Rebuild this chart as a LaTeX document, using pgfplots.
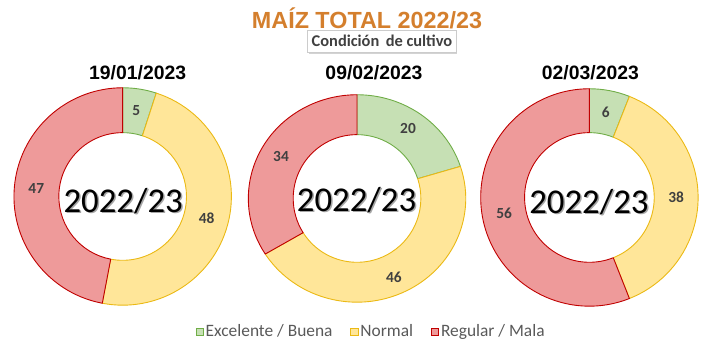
\documentclass[border=0pt]{standalone}
\usepackage{pgfplots}
\pgfplotsset{compat=1.18}
\usepackage{fontspec}
\setmainfont{Carlito}
\newfontfamily\arialfont{Liberation Sans}
\usetikzlibrary{shadows}
\definecolor{gfill}{RGB}{198,224,180}
\definecolor{gdraw}{RGB}{112,173,71}
\definecolor{yfill}{RGB}{255,230,153}
\definecolor{ydraw}{RGB}{235,185,20}
\definecolor{rfill}{RGB}{238,154,154}
\definecolor{rdraw}{RGB}{192,0,0}
\definecolor{lbl}{RGB}{64,64,64}
\definecolor{leg}{RGB}{89,89,89}
\definecolor{ttl}{RGB}{212,127,45}

% one ring segment: cx cy a1 a2 Rx Ry r fill draw
\newcommand{\seg}[9]{%
  \filldraw[fill=#8, draw=#9, line width=0.9pt, line join=round, shift={(axis cs:#1,#2)}]
    (#3:#5bp and #6bp) arc[start angle=#3, end angle=#4, x radius=#5bp, y radius=#6bp]
    -- (#4:#7bp) arc[start angle=#4, end angle=#3, radius=#7bp] -- cycle;}
% donut: cx cy Rx Ry r  green yellow red (percent)
\newcommand{\donut}[8]{%
  \pgfplotsextra{%
    \pgfmathsetmacro\aA{90}%
    \pgfmathsetmacro\aB{90-3.6*#6}%
    \pgfmathsetmacro\aC{\aB-3.6*#7}%
    \pgfmathsetmacro\aD{\aC-3.6*#8}%
    \seg{#1}{#2}{\aA}{\aB}{#3}{#4}{#5}{gfill}{gdraw}%
    \seg{#1}{#2}{\aB}{\aC}{#3}{#4}{#5}{yfill}{ydraw}%
    \seg{#1}{#2}{\aC}{\aD}{#3}{#4}{#5}{rfill}{rdraw}%
    \pgfmathsetmacro\mA{(\aA+\aB)/2}%
    \pgfmathsetmacro\mB{(\aB+\aC)/2}%
    \pgfmathsetmacro\mC{(\aC+\aD)/2}%
    \path[shift={(axis cs:#1,#2)}, every node/.style={font=\fontsize{15.5}{18}\selectfont\bfseries, text=lbl}]
      (\mA:87bp) node{#6} (\mB:87bp) node{#7} (\mC:87bp) node{#8};
  }}

\begin{document}
\begin{tikzpicture}
\begin{axis}[
  x=1bp, y=1bp, xmin=0, xmax=713, ymin=0, ymax=353,
  hide axis, clip=false,
  legend style={at={(0.522,0.058)}, anchor=center, draw=none, fill=none,
    font=\fontsize{17.5}{20}\selectfont, text=leg,
    /tikz/every even column/.append style={column sep=16bp}},
  legend columns=3,
  legend image code/.code={\filldraw[#1, line width=0.8pt] (0bp,-3.6bp) rectangle (7.2bp,3.6bp);},
]
\path (axis cs:0,0) rectangle (axis cs:713,353);

\donut{123}{156}{109}{109}{64}{5}{48}{47}
\donut{358}{154}{109}{104}{64}{20}{46}{34}
\donut{591}{155}{109}{109}{65}{6}{38}{56}

% titles
\node[font=\arialfont\fontsize{23.5}{28}\selectfont\bfseries, text=ttl] at (axis cs:368,335) {MAÍZ TOTAL 2022/23};
\node[draw=black!20, fill=white, line width=0.6pt, minimum width=131bp, minimum height=22bp, inner xsep=4bp, inner ysep=0pt,
  drop shadow={shadow xshift=0.8bp, shadow yshift=-2bp, opacity=0.35},
  font=\fontsize{16.5}{19}\selectfont\bfseries, text=lbl] at (axis cs:383,312) {Condición\, de cultivo};

\node[font=\arialfont\fontsize{19.5}{23}\selectfont\bfseries] at (axis cs:138,280) {19/01/2023};
\node[font=\arialfont\fontsize{19.5}{23}\selectfont\bfseries] at (axis cs:375,280) {09/02/2023};
\node[font=\arialfont\fontsize{19.5}{23}\selectfont\bfseries] at (axis cs:592,280) {02/03/2023};

% centre texts with shadow
\node[font=\fontsize{35}{40}\selectfont, text=black!35] at (axis cs:125,150) {2022/23};
\node[font=\fontsize{35}{40}\selectfont] at (axis cs:123.5,151.5) {2022/23};
\node[font=\fontsize{35}{40}\selectfont, text=black!35] at (axis cs:359,151) {2022/23};
\node[font=\fontsize{35}{40}\selectfont] at (axis cs:357.5,152.5) {2022/23};
\node[font=\fontsize{35}{40}\selectfont, text=black!35] at (axis cs:592,149) {2022/23};
\node[font=\fontsize{35}{40}\selectfont] at (axis cs:590.5,150.5) {2022/23};

\addlegendimage{fill=gfill, draw=gdraw}
\addlegendentry{Excelente / Buena}
\addlegendimage{fill=yfill, draw=ydraw}
\addlegendentry{Normal}
\addlegendimage{fill=rfill, draw=rdraw}
\addlegendentry{Regular / Mala}
\end{axis}
\end{tikzpicture}
\end{document}
